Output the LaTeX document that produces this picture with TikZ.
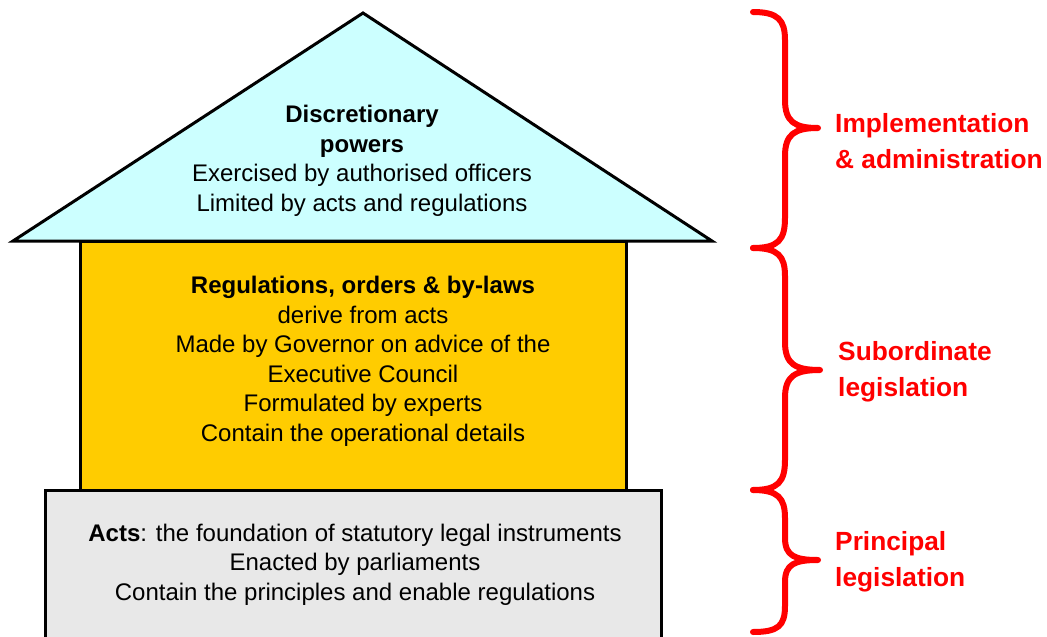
\documentclass[tikz,border=0pt]{standalone}
\usepackage{fontspec}
\setmainfont{Liberation Sans}
\definecolor{roofc}{HTML}{CCFFFF}
\definecolor{wallc}{HTML}{FFCC00}
\definecolor{basec}{HTML}{E8E8E8}
\definecolor{redc}{HTML}{FF0000}
\begin{document}
\begin{tikzpicture}[x=1pt,y=-1pt,
  part/.style={draw=black,line width=3pt,line join=miter},
  body/.style={align=center,inner sep=0pt,font=\fontsize{24}{29.5}\selectfont},
  side/.style={anchor=west,align=left,inner sep=0pt,text=redc,font=\fontsize{26.3}{36}\selectfont\bfseries},
  curly/.style={draw=redc,line width=6pt,line cap=round,line join=round}]
\useasboundingbox (0,0) rectangle (1047,637);
\clip (0,0) rectangle (1047,637);
% shapes
\draw[part,fill=roofc] (363,13) -- (712,241) -- (13,241) -- cycle;
\draw[part,fill=wallc] (80,241) rectangle (626,490);
\draw[part,fill=basec] (45,490) rectangle (661,660);
% texts
\node[body] (roof) at (362,161) {\textbf{Discretionary}\\\textbf{powers}\\Exercised by authorised officers\\Limited by acts and regulations};
\node[body] (wall) at (363,361.5) {\textbf{Regulations, orders \& by-laws}\\derive from acts\\Made by Governor on advice of the\\Executive Council\\Formulated by experts\\Contain the operational details};
\node[body] (base) at (355,564.5) {\textbf{Acts}: the foundation of statutory legal instruments\\Enacted by parliaments\\Contain the principles and enable regulations};
% braces
\draw[curly] (753,12) .. controls (778,12) and (785,20) .. (785,40) -- (785,100)
  .. controls (785,122) and (795,128) .. (818,128)
  .. controls (795,128) and (785,134) .. (785,156) -- (785,218)
  .. controls (785,240) and (778,248) .. (753,248);
\draw[curly] (753,248) .. controls (778,248) and (785,256) .. (785,276) -- (785,342)
  .. controls (785,364) and (795,370) .. (820,370)
  .. controls (795,370) and (785,376) .. (785,398) -- (785,460)
  .. controls (785,482) and (778,490) .. (753,490);
\draw[curly] (753,490) .. controls (778,490) and (785,498) .. (785,518) -- (785,538)
  .. controls (785,556) and (795,560) .. (818,560)
  .. controls (795,560) and (785,564) .. (785,582) -- (785,606)
  .. controls (785,626) and (778,632) .. (753,632);
\node[side] (lab1) at (835,141) {Implementation\\\& administration};
\node[side] (lab2) at (838,372) {Subordinate\\legislation};
\node[side] (lab3) at (835,562) {Principal\\legislation};
\end{tikzpicture}
\end{document}
